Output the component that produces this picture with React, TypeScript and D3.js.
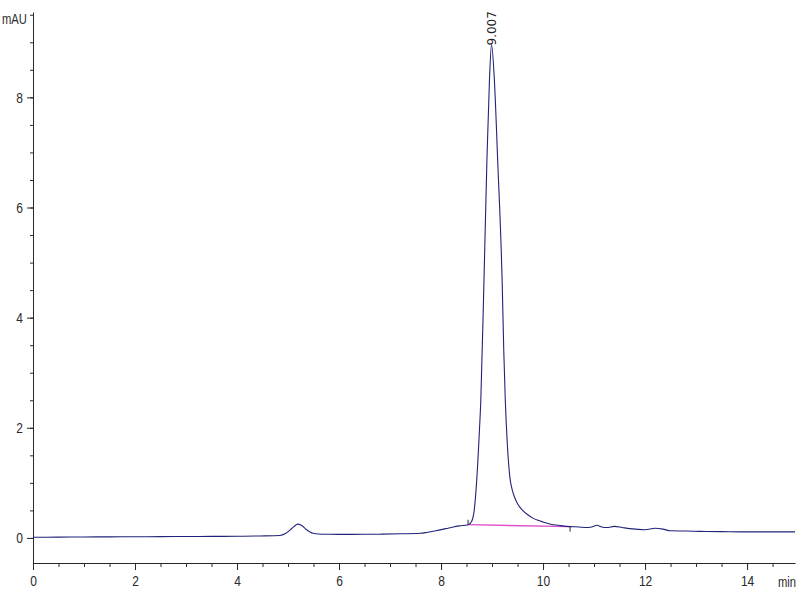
import { useEffect, useRef } from "react";
import * as d3 from "d3";

// chromatogram (time in min, signal in mAU)
const times = [
  0.0, 0.5, 1.0, 1.5, 2.0, 2.5, 3.0, 3.5, 4.0, 4.45, 4.84, 4.95, 5.05, 5.12, 5.19,
  5.26, 5.35, 5.49, 5.6, 5.8, 6.0, 6.5, 6.8, 7.2, 7.59, 7.72, 7.9, 8.1, 8.24, 8.37,
  8.53, 8.6, 8.65, 8.7, 8.75, 8.78, 8.84, 8.9, 8.95, 8.99, 9.045, 9.11, 9.2, 9.23,
  9.26, 9.3, 9.35, 9.4, 9.45, 9.5, 9.6, 9.7, 9.8, 9.9, 10.0, 10.15, 10.3, 10.53, 10.7,
  10.85, 10.95, 11.06, 11.15, 11.25, 11.4, 11.55, 11.7, 12.0, 12.2, 12.35, 12.5,
  12.8, 13.08, 13.5, 14.06, 14.5, 14.94,
];
const signal = [
  0.013, 0.015, 0.018, 0.02, 0.022, 0.024, 0.026, 0.028, 0.03, 0.036, 0.045, 0.08,
  0.15, 0.21, 0.25, 0.23, 0.16, 0.085, 0.072, 0.067, 0.065, 0.066, 0.068, 0.075,
  0.085, 0.1, 0.13, 0.17, 0.2, 0.22, 0.24, 0.3, 0.5, 1.05, 1.9, 2.5, 4.6, 6.87, 8.33,
  8.96, 8.33, 6.87, 4.6, 3.4, 2.5, 1.7, 1.1, 0.86, 0.72, 0.62, 0.5, 0.42, 0.36, 0.32,
  0.29, 0.25, 0.23, 0.205, 0.2, 0.19, 0.2, 0.23, 0.2, 0.19, 0.21, 0.19, 0.17, 0.15,
  0.175, 0.16, 0.13, 0.125, 0.12, 0.115, 0.11, 0.11, 0.11,
];

// integration baseline of the main peak
const baseStart = [8.53, 0.24];
const baseEnd = [10.53, 0.205];

const peakTime = 9.007;
const peakHeight = 8.96;
const peakLabel = "9.007";

const xTicks = [0, 2, 4, 6, 8, 10, 12, 14];
const yTicks = [0, 2, 4, 6, 8];

export default function App() {
  const svgRef = useRef<SVGSVGElement>(null);

  useEffect(() => {
    if (!svgRef.current) return;
    const width = 800;
    const height = 600;

    const svg = d3.select(svgRef.current);
    svg.selectAll("*").remove();

    const x = d3.scaleLinear().domain([0, 14.94]).range([33, 795]);
    const y = d3.scaleLinear().domain([-0.455, 9.55]).range([563, 12]);

    const axisFont = "'Liberation Sans', Arial, sans-serif";
    const ink = "#2a2a2a";
    const squeeze = 0.8; // labels in the original are condensed

    // minor ticks
    svg.append("g")
      .attr("transform", "translate(0,563)")
      .call(d3.axisBottom(x).tickValues(d3.range(0, 15, 0.5)).tickSize(4).tickFormat(() => ""))
      .call((g) => g.select(".domain").remove())
      .call((g) => g.selectAll("line").attr("stroke", ink));
    svg.append("g")
      .attr("transform", "translate(33,0)")
      .call(d3.axisLeft(y).tickValues(d3.range(0, 9.6, 0.5)).tickSize(3).tickFormat(() => ""))
      .call((g) => g.select(".domain").remove())
      .call((g) => g.selectAll("line").attr("stroke", ink));

    // x axis
    const xAxis = svg.append("g")
      .attr("transform", "translate(0,563)")
      .call(d3.axisBottom(x).tickValues(xTicks).tickSize(7).tickSizeOuter(0).tickPadding(5).tickFormat(d3.format("d")));
    xAxis.select(".domain").attr("stroke", ink);
    xAxis.selectAll("line").attr("stroke", ink);
    xAxis.selectAll("text")
      .attr("font-family", axisFont)
      .attr("font-size", 15)
      .attr("fill", ink)
      .attr("transform", `scale(${squeeze},1)`);

    // y axis
    const yAxis = svg.append("g")
      .attr("transform", "translate(33,0)")
      .call(d3.axisLeft(y).tickValues(yTicks).tickSize(6).tickSizeOuter(0).tickPadding(4).tickFormat(d3.format("d")));
    yAxis.select(".domain").attr("stroke", ink);
    yAxis.selectAll("line").attr("stroke", ink);
    yAxis.selectAll("text")
      .attr("font-family", axisFont)
      .attr("font-size", 15)
      .attr("fill", ink)
      .attr("x", -10 / squeeze)
      .attr("transform", `scale(${squeeze},1)`);

    svg.append("text")
      .attr("transform", `translate(2,24) scale(${squeeze},1)`)
      .attr("font-family", axisFont)
      .attr("font-size", 14)
      .attr("fill", ink)
      .text("mAU");
    svg.append("text")
      .attr("transform", `translate(796,587) scale(${squeeze},1)`)
      .attr("text-anchor", "end")
      .attr("font-family", axisFont)
      .attr("font-size", 14)
      .attr("fill", ink)
      .text("min");

    // integration baseline
    svg.append("line")
      .attr("x1", x(baseStart[0])).attr("y1", y(baseStart[1]))
      .attr("x2", x(baseEnd[0])).attr("y2", y(baseEnd[1]))
      .attr("stroke", "#e050c8")
      .attr("stroke-width", 1.3);
    svg.append("line")
      .attr("x1", x(baseStart[0])).attr("y1", y(baseStart[1]) - 5)
      .attr("x2", x(baseStart[0])).attr("y2", y(baseStart[1]))
      .attr("stroke", ink);
    svg.append("line")
      .attr("x1", x(baseEnd[0])).attr("y1", y(baseEnd[1]))
      .attr("x2", x(baseEnd[0])).attr("y2", y(baseEnd[1]) + 5)
      .attr("stroke", ink);

    // signal trace
    const pts: [number, number][] = times.map((t, i) => [t, signal[i]]);
    const line = d3.line<[number, number]>()
      .x((d) => x(d[0]))
      .y((d) => y(d[1]))
      .curve(d3.curveMonotoneX);
    svg.append("path")
      .datum(pts)
      .attr("d", line)
      .attr("fill", "none")
      .attr("stroke", "#22227a")
      .attr("stroke-width", 1.1);

    // peak retention time label
    const px = x(peakTime) - 1;
    const py = y(peakHeight) + 1;
    svg.append("text")
      .attr("transform", `translate(${px},${py}) rotate(-90)`)
      .attr("dy", "0.35em")
      .attr("font-family", "'DejaVu Sans', sans-serif")
      .attr("font-size", 12)
      .attr("fill", "#222")
      .text(peakLabel);

    svg.attr("width", width).attr("height", height);
  }, []);

  return (
    <svg
      ref={svgRef}
      width={800}
      height={600}
      style={{ position: "absolute", left: 0, top: 0, background: "#fff" }}
    />
  );
}
